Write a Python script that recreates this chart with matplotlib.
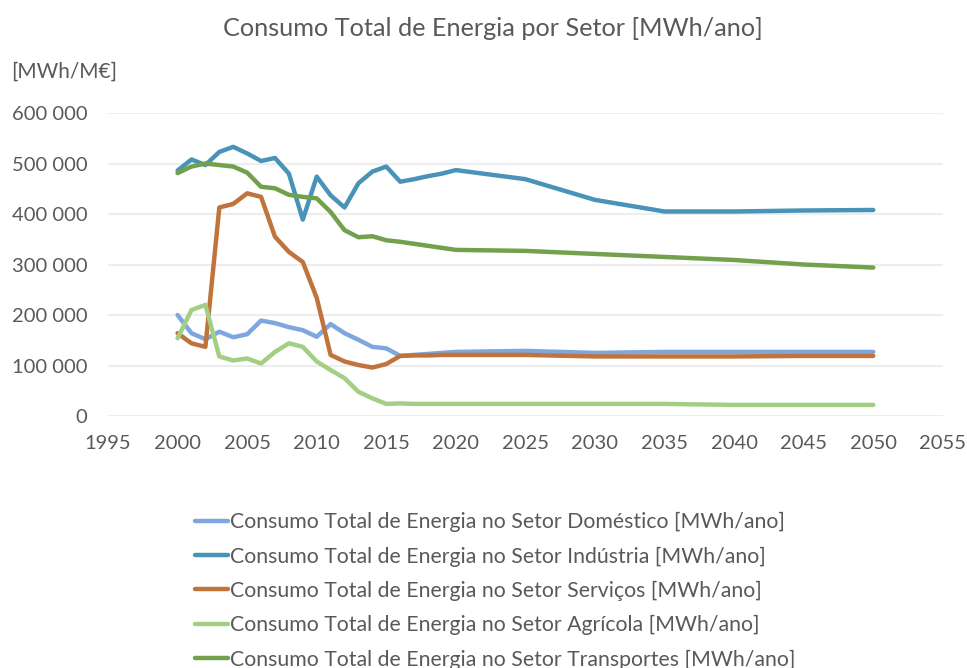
import matplotlib
matplotlib.use("Agg")
import matplotlib.pyplot as plt
from matplotlib.ticker import FuncFormatter, MultipleLocator

plt.rcParams['font.family'] = ['Lato', 'DejaVu Sans']

years = [2000, 2001, 2002, 2003, 2004, 2005, 2006, 2007, 2008, 2009,
         2010, 2011, 2012, 2013, 2014, 2015, 2016, 2017, 2018, 2019,
         2020, 2025, 2030, 2035, 2040, 2045, 2050]

domestico = [200000, 164000, 152000, 167000, 156000, 162000, 189000, 184000, 176000, 170000,
             157000, 182000, 164000, 151000, 137000, 134000, 119000, 121000, 123000, 125000,
             127000, 129000, 125000, 127000, 127000, 127000, 127000]

industria = [486000, 508000, 497000, 523000, 533000, 520000, 505000, 511000, 480000, 389000,
             474000, 437000, 413000, 461000, 484000, 494000, 464000, 469000, 475000, 480000,
             487000, 469000, 428000, 405000, 405000, 407000, 408000]

servicos = [164000, 144000, 137000, 413000, 420000, 441000, 434000, 355000, 325000, 305000,
            234000, 121000, 108000, 101000, 96000, 103000, 119000, 120000, 120000, 121000,
            121000, 121000, 118000, 118000, 118000, 119000, 119000]

agricola = [154000, 210000, 220000, 118000, 110000, 114000, 104000, 127000, 144000, 137000,
            108000, 91000, 75000, 48000, 35000, 24000, 25000, 24000, 24000, 24000,
            24000, 24000, 24000, 24000, 22000, 22000, 22000]

transportes = [481000, 494000, 500000, 497000, 494000, 482000, 454000, 451000, 438000, 434000,
               431000, 404000, 368000, 354000, 356000, 348000, 345000, 341000, 337000, 333000,
               329000, 327000, 321000, 315000, 309000, 300000, 294000]

labels = [
    "Consumo Total de Energia no Setor Doméstico [MWh/ano]",
    "Consumo Total de Energia no Setor Indústria [MWh/ano]",
    "Consumo Total de Energia no Setor Serviços [MWh/ano]",
    "Consumo Total de Energia no Setor Agrícola [MWh/ano]",
    "Consumo Total de Energia no Setor Transportes [MWh/ano]",
]
colors = ['#7fa7df', '#4a93b8', '#c0733a', '#a3cf84', '#72a04c']
series = [domestico, industria, servicos, agricola, transportes]

text_color = '#595959'

fig = plt.figure(figsize=(9.67, 6.68), dpi=100)
ax = fig.add_axes([0.1117, 0.3772, 0.975 - 0.1117, 0.8308 - 0.3772])

for s, c, l in zip(series, colors, labels):
    ax.plot(years, s, color=c, linewidth=3.2, label=l, solid_capstyle='round',
            solid_joinstyle='round')

ax.set_xlim(1995, 2055)
ax.set_ylim(0, 600000)
ax.xaxis.set_major_locator(MultipleLocator(5))
ax.yaxis.set_major_locator(MultipleLocator(100000))
ax.yaxis.set_major_formatter(FuncFormatter(lambda v, p: f"{int(v):,}".replace(",", " ")))
ax.grid(axis='y', color='#ededed', linewidth=1.5)
ax.set_axisbelow(True)
for sp in ax.spines.values():
    sp.set_visible(False)
ax.tick_params(axis='y', length=0, labelsize=14.5, colors=text_color, pad=15)
ax.tick_params(axis='x', length=0, labelsize=14.5, colors=text_color, pad=14)

fig.text(0.51, 0.958, "Consumo Total de Energia por Setor [MWh/ano]", ha='center', va='center',
         fontsize=18.2, color=text_color)
fig.text(0.012, 0.893, "[MWh/M€]", ha='left', va='center', fontsize=15, color=text_color)

leg = fig.legend(loc='upper left', bbox_to_anchor=(0.2017, 0.2335), frameon=False,
                 fontsize=15.3, handlelength=1.55, handletextpad=0.1, labelspacing=0.67,
                 borderaxespad=0, borderpad=0)
for t in leg.get_texts():
    t.set_color(text_color)

fig.savefig("out.png", dpi=100)
